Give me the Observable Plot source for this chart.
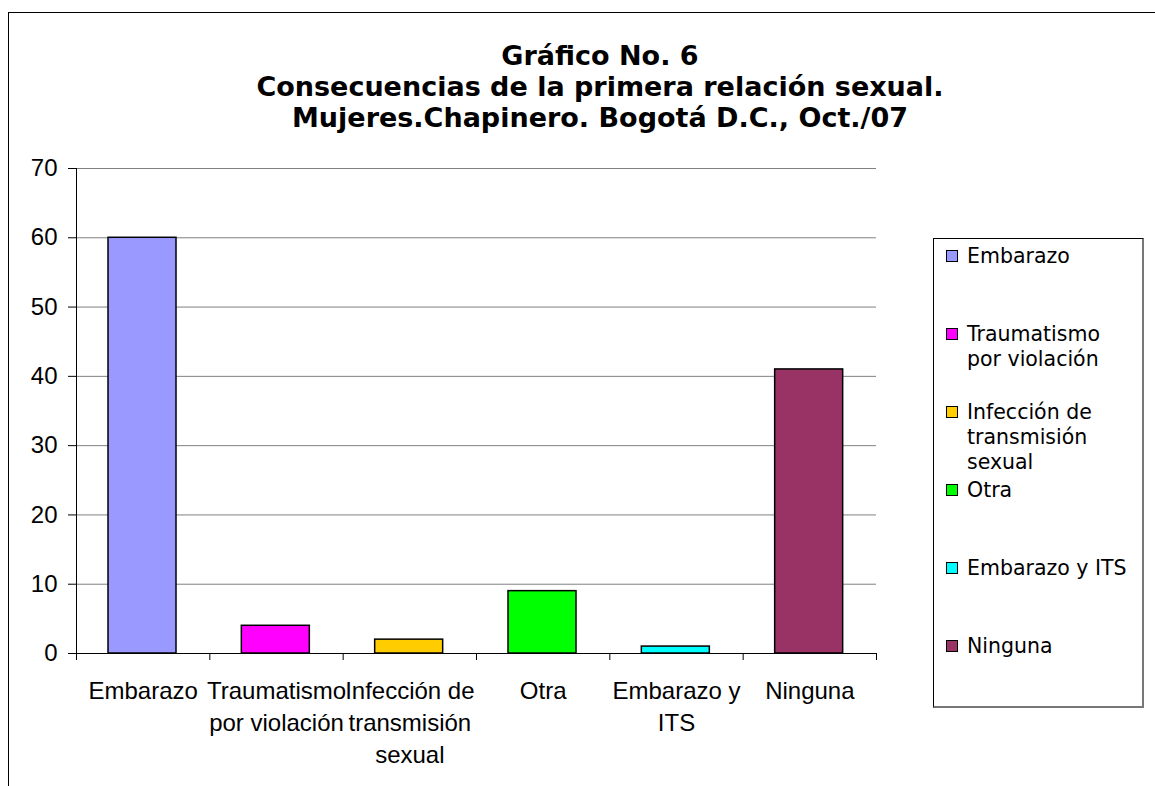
<!DOCTYPE html>
<html>
<head>
<meta charset="utf-8">
<script src="https://cdn.jsdelivr.net/npm/d3@7"></script>
<script src="https://cdn.jsdelivr.net/npm/@observablehq/plot@0.6"></script>
<style>
  html, body { margin: 0; padding: 0; background: #fff; overflow: hidden; }
  #wrap { position: relative; width: 1155px; height: 786px; overflow: hidden; }
  #frame { position: absolute; left: 8px; top: 12px; width: 1300px; height: 900px; border: 1.5px solid #000; box-sizing: border-box; }
  #title { position: absolute; left: 100px; top: 40px; width: 1000px; text-align: center;
           font-family: "DejaVu Sans", Verdana, sans-serif; font-weight: bold; font-size: 27px; line-height: 31px; color: #000; }
  #legend { position: absolute; left: 933px; top: 238px; width: 211px; height: 470px; border: 1px solid #000;
            border-right: 2px solid #777; border-bottom: 2px solid #777; box-sizing: border-box; background: #fff; }
  .sw { position: absolute; left: 12px; width: 12px; height: 12px; border: 1.5px solid #000; box-sizing: border-box; }
  .lt { position: absolute; left: 33px; white-space: pre; font-family: "DejaVu Sans", Verdana, sans-serif;
        font-size: 20.5px; line-height: 25px; color: #000; }
  #chart { position: absolute; left: 0; top: 0; }
</style>
</head>
<body>
<div id="wrap">
  <div id="frame"></div>
  <div id="chart"></div>
  <div id="title"></div>
  <div id="legend"></div>
</div>
<script>
// ---- data ----
const titleLines = ["Gráfico No. 6", "Consecuencias de la primera relación sexual.", "Mujeres.Chapinero. Bogotá D.C., Oct./07"];
const categories = ["Embarazo", "Traumatismo por violación", "Infección de transmisión sexual", "Otra", "Embarazo y ITS", "Ninguna"];
const values = [60, 4, 2, 9, 1, 41];
const colors = ["#9999FF", "#FF00FF", "#FFCC00", "#00FF00", "#00FFFF", "#993366"];
const axisLabels = ["Embarazo", "Traumatismo\npor violación", "Infección de\ntransmisión\nsexual", "Otra", "Embarazo y\nITS", "Ninguna"];
const legendLabels = ["Embarazo", "Traumatismo\npor violación", "Infección de\ntransmisión\nsexual", "Otra", "Embarazo y ITS", "Ninguna"];
const yTicks = [0, 10, 20, 30, 40, 50, 60, 70];

const data = categories.map((c, i) => ({ i, category: c, value: values[i], color: colors[i] }));
const centers = data.map(d => d.i + 0.5);
const bounds = d3.range(categories.length + 1);

const svg = Plot.plot({
  width: 1155,
  height: 786,
  marginLeft: 76,
  marginRight: 279,
  marginTop: 168,
  marginBottom: 133,
  style: { background: "transparent", fontFamily: "'Liberation Sans', Arial, sans-serif", fontSize: "24px", color: "#000", overflow: "visible" },
  x: { domain: [0, categories.length] },
  y: { domain: [0, 70] },
  marks: [
    Plot.gridY(yTicks.filter(t => t > 0), { stroke: "#808080", strokeOpacity: 1, strokeWidth: 1 }),
    Plot.rectY(data, { x1: d => d.i + 0.24, x2: d => d.i + 0.75, y: "value", fill: "color", stroke: "#000", strokeWidth: 1.5 }),
    Plot.ruleX([0], { stroke: "#000", strokeWidth: 1 }),
    Plot.ruleY([0], { stroke: "#000", strokeWidth: 1 }),
    Plot.axisY(yTicks, { tickSize: 8, tickPadding: 11, label: null, fontSize: 24, stroke: "#000", fill: "#000" }),
    Plot.axisX(bounds, { tickSize: 7, tickFormat: () => "", label: null, stroke: "#000" }),
    Plot.axisX(centers, { tickSize: 0, tickPadding: 23, label: null, fontSize: 24, lineHeight: 1.33, fill: "#000",
      tickFormat: v => axisLabels[Math.floor(v)] })
  ]
});
document.getElementById("chart").appendChild(svg);

// title
const t = document.getElementById("title");
titleLines.forEach(line => { const d = document.createElement("div"); d.textContent = line; t.appendChild(d); });

// legend
const lg = document.getElementById("legend");
const legendTop = 238;
data.forEach((d, k) => {
  const cy = 255 + k * 78 - legendTop;
  const sw = document.createElement("div");
  sw.className = "sw"; sw.style.background = d.color; sw.style.top = (cy - 6) + "px";
  const lt = document.createElement("div");
  lt.className = "lt"; lt.textContent = legendLabels[k]; lt.style.top = (cy - 12) + "px";
  lg.appendChild(sw); lg.appendChild(lt);
});
</script>
</body>
</html>
